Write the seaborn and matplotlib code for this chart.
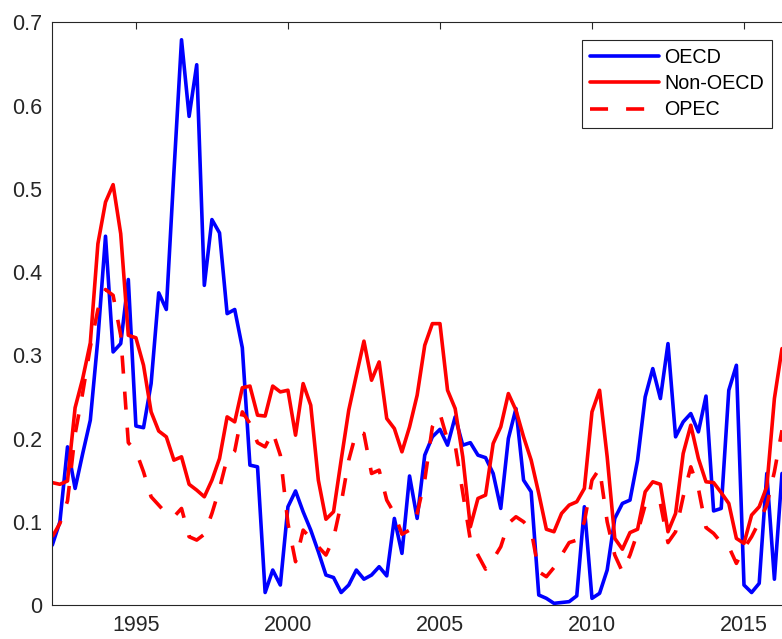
import numpy as np
import pandas as pd
import matplotlib
matplotlib.use("Agg")
import matplotlib.pyplot as plt
import seaborn as sns

# Quarterly series, first observation 1992.25
start_year = 1992.25
step = 0.25

oecd = [
    0.072, 0.100, 0.190, 0.140, 0.182, 0.222, 0.320, 0.443, 0.304, 0.314,
    0.391, 0.215, 0.213, 0.266, 0.375, 0.355, 0.520, 0.679, 0.587, 0.649,
    0.384, 0.463, 0.447, 0.350, 0.355, 0.309, 0.168, 0.166, 0.015, 0.042,
    0.024, 0.118, 0.137, 0.112, 0.090, 0.064, 0.036, 0.033, 0.015, 0.024,
    0.042, 0.031, 0.036, 0.046, 0.035, 0.104, 0.062, 0.155, 0.104, 0.180,
    0.202, 0.211, 0.192, 0.226, 0.192, 0.195, 0.180, 0.177, 0.158, 0.116,
    0.200, 0.236, 0.150, 0.136, 0.012, 0.008, 0.002, 0.003, 0.004, 0.011,
    0.118, 0.008, 0.014, 0.042, 0.104, 0.122, 0.126, 0.174, 0.250, 0.284,
    0.248, 0.314, 0.202, 0.220, 0.230, 0.208, 0.251, 0.113, 0.116, 0.258,
    0.288, 0.024, 0.015, 0.026, 0.158, 0.031, 0.158,
]

non_oecd = [
    0.147, 0.145, 0.149, 0.237, 0.272, 0.315, 0.434, 0.484, 0.505, 0.446,
    0.324, 0.321, 0.288, 0.232, 0.209, 0.202, 0.174, 0.178, 0.145, 0.138,
    0.130, 0.150, 0.176, 0.226, 0.220, 0.261, 0.263, 0.228, 0.227, 0.263,
    0.256, 0.258, 0.204, 0.266, 0.240, 0.150, 0.103, 0.112, 0.174, 0.234,
    0.276, 0.317, 0.270, 0.292, 0.224, 0.212, 0.184, 0.214, 0.252, 0.312,
    0.338, 0.338, 0.258, 0.236, 0.178, 0.094, 0.128, 0.132, 0.194, 0.214,
    0.254, 0.234, 0.202, 0.174, 0.134, 0.091, 0.088, 0.110, 0.120, 0.124,
    0.140, 0.232, 0.258, 0.178, 0.080, 0.067, 0.087, 0.091, 0.136, 0.148,
    0.145, 0.088, 0.110, 0.182, 0.216, 0.176, 0.148, 0.147, 0.135, 0.122,
    0.080, 0.074, 0.108, 0.118, 0.142, 0.248, 0.308,
]

opec = [
    0.082, 0.098, 0.125, 0.205, 0.255, 0.310, 0.355, 0.379, 0.372, 0.324,
    0.195, 0.185, 0.160, 0.130, 0.120, 0.110, 0.106, 0.116, 0.082, 0.078,
    0.085, 0.110, 0.140, 0.176, 0.185, 0.232, 0.218, 0.195, 0.190, 0.208,
    0.180, 0.098, 0.052, 0.090, 0.080, 0.070, 0.060, 0.080, 0.122, 0.174,
    0.208, 0.206, 0.158, 0.162, 0.126, 0.110, 0.085, 0.090, 0.110, 0.150,
    0.214, 0.230, 0.198, 0.192, 0.135, 0.078, 0.060, 0.043, 0.055, 0.070,
    0.098, 0.106, 0.100, 0.090, 0.040, 0.034, 0.045, 0.060, 0.075, 0.078,
    0.100, 0.150, 0.164, 0.100, 0.060, 0.040, 0.060, 0.087, 0.120, 0.124,
    0.122, 0.075, 0.088, 0.130, 0.166, 0.140, 0.093, 0.086, 0.075, 0.070,
    0.050, 0.068, 0.082, 0.100, 0.120, 0.160, 0.210,
]

series_names = ["OECD", "Non-OECD", "OPEC"]
x_ticks = [1995, 2000, 2005, 2010, 2015]
y_ticks = [0, 0.1, 0.2, 0.3, 0.4, 0.5, 0.6, 0.7]
y_tick_labels = ["0", "0.1", "0.2", "0.3", "0.4", "0.5", "0.6", "0.7"]

years = start_year + step * np.arange(len(oecd))
df = pd.DataFrame({
    "year": np.concatenate([years, years, years]),
    "value": np.concatenate([oecd, non_oecd, opec]),
    "series": np.repeat(series_names, len(years)),
})

sns.set_style("white")
plt.rcParams["font.family"] = ["Liberation Sans", "DejaVu Sans"]

axis_gray = (0.15, 0.15, 0.15)
W, H = 782, 639
fig = plt.figure(figsize=(W / 100, H / 100), dpi=100)
left_px, top_px, bottom_px = 52.3, 22.3, 605.0
ax = fig.add_axes([left_px / W, (H - bottom_px) / H,
                   1 - left_px / W, (bottom_px - top_px) / H])

sns.lineplot(
    data=df, x="year", y="value", hue="series", style="series",
    hue_order=series_names, style_order=series_names,
    palette={"OECD": "#0000ff", "Non-OECD": "#ff0000", "OPEC": "#ff0000"},
    dashes={"OECD": "", "Non-OECD": "", "OPEC": (5, 5)},
    linewidth=2.6, ax=ax, legend=False,
)

ax.set_xlim(start_year, start_year + step * (len(oecd) - 1))
ax.set_ylim(0, 0.7)
ax.set_xticks(x_ticks)
ax.set_xticklabels([str(t) for t in x_ticks])
ax.set_yticks(y_ticks)
ax.set_yticklabels(y_tick_labels)
ax.set_xlabel("")
ax.set_ylabel("")

for side in ["left", "bottom", "top"]:
    ax.spines[side].set_color(axis_gray)
    ax.spines[side].set_linewidth(0.8)
ax.spines["right"].set_visible(False)

ax.tick_params(axis="both", direction="in", length=5, width=0.8,
               colors=axis_gray, labelsize=15.5, top=True, right=False)
ax.tick_params(axis="y", pad=7)
ax.tick_params(axis="x", pad=7.5)
for lbl in ax.get_xticklabels() + ax.get_yticklabels():
    lbl.set_color(axis_gray)

handles = ax.get_lines()[:3]
leg = ax.legend(
    handles, series_names, loc="upper right",
    bbox_to_anchor=(772.3 / W, 1 - 40 / H), bbox_transform=fig.transFigure,
    borderaxespad=0, fontsize=14.2, frameon=True, fancybox=False,
    handlelength=3.5, handletextpad=0.25, labelspacing=0.36,
    borderpad=0.42, framealpha=1,
)
leg.get_frame().set_edgecolor(axis_gray)
leg.get_frame().set_linewidth(0.8)
for t in leg.get_texts():
    t.set_color("black")

fig.savefig("out.png", dpi=100)
